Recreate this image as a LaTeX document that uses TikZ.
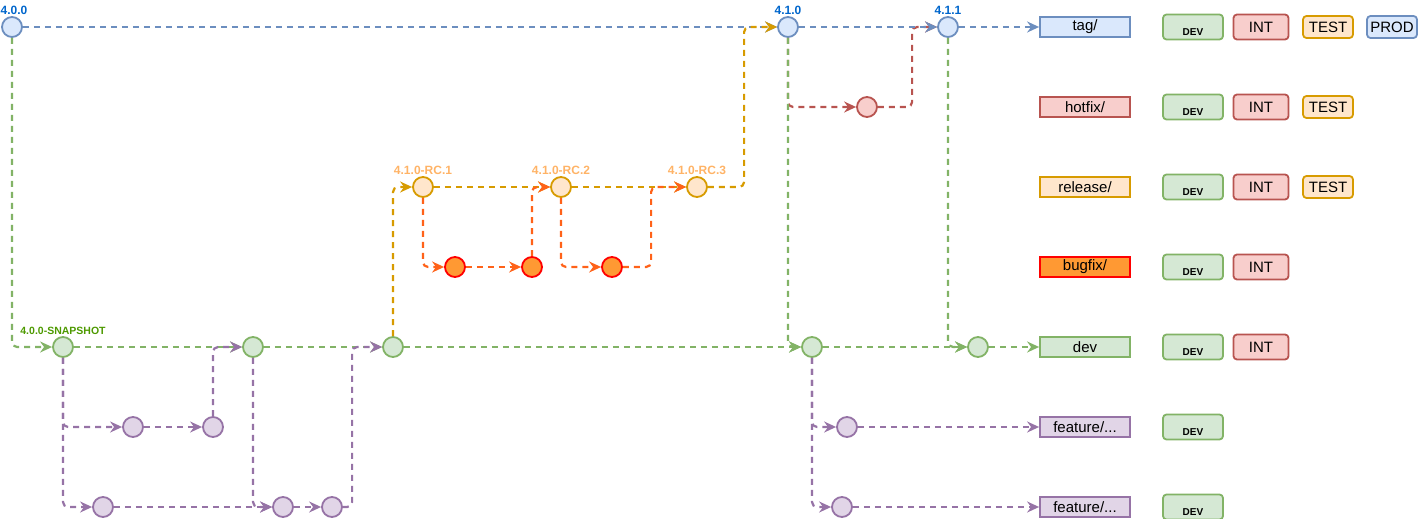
\documentclass[tikz,border=0pt]{standalone}
\usepackage{fontspec}
\setmainfont{Liberation Sans}
\usetikzlibrary{arrows.meta}
\definecolor{blueln}{HTML}{6C8EBF}
\definecolor{bluefl}{HTML}{DAE8FC}
\definecolor{greenln}{HTML}{82B366}
\definecolor{greenfl}{HTML}{D5E8D4}
\definecolor{redln}{HTML}{B85450}
\definecolor{redfl}{HTML}{F8CECC}
\definecolor{yellowln}{HTML}{D79B00}
\definecolor{yellowfl}{HTML}{FFE6CC}
\definecolor{purpleln}{HTML}{9673A6}
\definecolor{purplefl}{HTML}{E1D5E7}
\definecolor{bugln}{HTML}{FF0000}
\definecolor{bugfl}{HTML}{FF9933}
\definecolor{bugpath}{HTML}{FF6219}
\definecolor{verblue}{HTML}{0066CC}
\definecolor{verorange}{HTML}{FFB366}
\definecolor{vergreen}{HTML}{4D9900}
\tikzset{
commit/.style={ % Sets the properties for each commit
circle, draw, line width=1.8pt,
minimum size=20pt, inner sep=0pt},
tagc/.style={commit, draw=blueln, fill=bluefl},
hotc/.style={commit, draw=redln, fill=redfl},
relc/.style={commit, draw=yellowln, fill=yellowfl},
bugc/.style={commit, draw=bugln, fill=bugfl},
devc/.style={commit, draw=greenln, fill=greenfl},
featc/.style={commit, draw=purpleln, fill=purplefl},
ver/.style={font=\bfseries\fontsize{12}{13}\selectfont, inner sep=1.5pt},
flow/.style={ % Sets the properties for each link
draw, line width=2.2pt,
dash pattern=on 6pt off 5pt,
rounded corners=5pt,
-{Stealth[length=12pt,width=11pt,inset=4pt]}},
lane/.style={ % Branch boxes on the right
draw, line width=1.8pt,
minimum width=90pt, minimum height=20pt, inner sep=0pt,
font=\fontsize{15}{16}\selectfont},
env/.style={ % Environment boxes
draw, line width=1.8pt, rounded corners=3.5pt,
minimum height=25pt, inner sep=0pt,
font=\fontsize{15}{16}\selectfont},
envdev/.style={env, draw=greenln, fill=greenfl, minimum width=60pt,
font=\bfseries\fontsize{10}{10}\selectfont, text height=17pt, text depth=0pt},
envint/.style={env, draw=redln, fill=redfl, minimum width=55pt},
envtest/.style={env, draw=yellowln, fill=yellowfl, minimum width=50pt, minimum height=22pt},
envprod/.style={env, draw=blueln, fill=bluefl, minimum width=50pt, minimum height=22pt}}

\begin{document}
\begin{tikzpicture}[x=1pt, y=-1pt]
\useasboundingbox (0,0) rectangle (1419,519);
% commits
\node[tagc, label={[ver, text=verblue, xshift=2pt]above:4.0.0}] (v400) at (12,27) {};
\node[tagc, label={[ver, text=verblue]above:4.1.0}] (v410) at (788,27) {};
\node[tagc, label={[ver, text=verblue]above:4.1.1}] (v411) at (948,27) {};
\node[hotc] (hfx) at (867,107) {};
\node[relc, label={[ver, text=verorange]above:4.1.0-RC.1}] (rc1) at (423,187) {};
\node[relc, label={[ver, text=verorange]above:4.1.0-RC.2}] (rc2) at (561,187) {};
\node[relc, label={[ver, text=verorange]above:4.1.0-RC.3}] (rc3) at (697,187) {};
\node[bugc] (bf1) at (455,267) {};
\node[bugc] (bf2) at (532,267) {};
\node[bugc] (bf3) at (612,267) {};
\node[devc, label={[ver, text=vergreen, font=\bfseries\fontsize{10.5}{11}\selectfont]above:4.0.0-SNAPSHOT}] (snap) at (63,347) {};
\node[devc] (dv2) at (253,347) {};
\node[devc] (dv3) at (393,347) {};
\node[devc] (dv4) at (812,347) {};
\node[devc] (dv5) at (978,347) {};
\node[featc] (f1a) at (133,427) {};
\node[featc] (f1b) at (213,427) {};
\node[featc] (f3) at (847,427) {};
\node[featc] (f2a) at (103,507) {};
\node[featc] (f2b) at (283,507) {};
\node[featc] (f2c) at (332,507) {};
\node[featc] (f4) at (842,507) {};
% branches
\node[lane, draw=blueln, fill=bluefl] (tag) at (1085,27) {tag/};
\node[lane, draw=redln, fill=redfl] (hotfix) at (1085,107) {hotfix/};
\node[lane, draw=yellowln, fill=yellowfl] (release) at (1085,187) {release/};
\node[lane, draw=bugln, fill=bugfl] (bugfix) at (1085,267) {bugfix/};
\node[lane, draw=greenln, fill=greenfl] (dev) at (1085,347) {dev};
\node[lane, draw=purpleln, fill=purplefl] (feat1) at (1085,427) {feature/...};
\node[lane, draw=purpleln, fill=purplefl] (feat2) at (1085,507) {feature/...};
% environments
\foreach \y in {27,107,187,267,347,427,507}
  \node[envdev] at (1193,\y) {DEV};
\foreach \y in {27,107,187,267,347}
  \node[envint] at (1261,\y) {INT};
\foreach \y in {27,107,187}
  \node[envtest] at (1328,\y) {TEST};
\node[envprod] (prod) at (1392,27) {PROD};
% links
\draw (v400) edge[flow, blueln] (v410);
\draw[flow, redln] (v410.south) |- (hfx.west);
\draw[flow, redln] (hfx.east) -| ([xshift=-25pt]v411.west) -- (v411.west);
\draw[flow, greenln] (v400.south) |- (snap.west);
\draw (snap) edge[flow, greenln] (dv2);
\draw (dv2) edge[flow, greenln] (dv3);
\draw (dv3) edge[flow, greenln] (dv4);
\draw (dv4) edge[flow, greenln] (dv5);
\draw (dv5) edge[flow, greenln] (dev);
\draw[flow, greenln] (v410.south) |- (dv4.west);
\draw[flow, greenln] (v411.south) |- (dv5.west);
\draw[flow, purpleln] (snap.south) |- (f1a.west);
\draw (f1a) edge[flow, purpleln] (f1b);
\draw[flow, purpleln] (f1b.north) |- (dv2.west);
\draw[flow, purpleln] (snap.south) |- (f2a.west);
\draw (f2a) edge[flow, purpleln] (f2b);
\draw[flow, purpleln] (dv2.south) |- (f2b.west);
\draw (f2b) edge[flow, purpleln] (f2c);
\draw[flow, purpleln] (f2c.east) -| ([xshift=-30pt]dv3.west) -- (dv3.west);
\draw[flow, purpleln] (dv4.south) |- (f3.west);
\draw[flow, purpleln] (dv4.south) |- (f4.west);
\draw (f3) edge[flow, purpleln] (feat1);
\draw (f4) edge[flow, purpleln] (feat2);
\draw[flow, yellowln] (dv3.north) |- (rc1.west);
\draw (rc1) edge[flow, yellowln] (rc2);
\draw (rc2) edge[flow, yellowln] (rc3);
\draw[flow, yellowln] (rc3.east) -| ([xshift=-33pt]v410.west) -- (v410.west);
\draw[flow, bugpath] (rc1.south) |- (bf1.west);
\draw (bf1) edge[flow, bugpath] (bf2);
\draw[flow, bugpath] (bf2.north) |- (rc2.west);
\draw[flow, bugpath] (rc2.south) |- (bf3.west);
\draw[flow, bugpath] (bf3.east) -| ([xshift=-35pt]rc3.west) -- (rc3.west);
\draw (v410) edge[flow, blueln] (v411);
\draw (v411) edge[flow, blueln] (tag);
\end{tikzpicture}
\end{document}
